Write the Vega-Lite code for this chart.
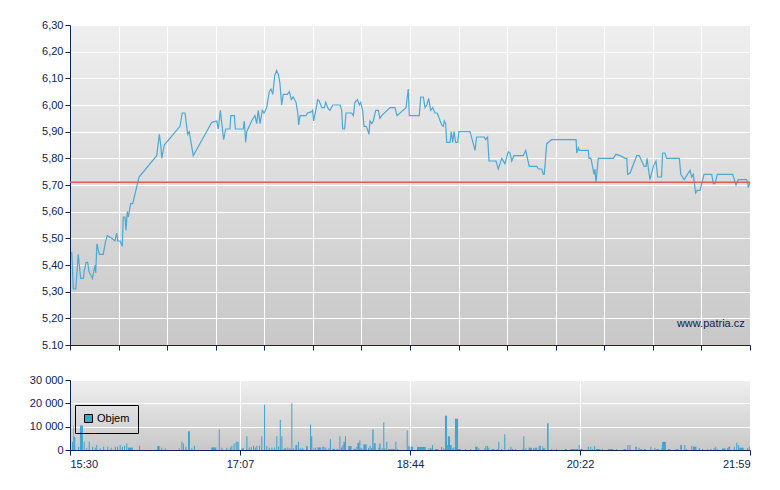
{
  "$schema": "https://vega.github.io/schema/vega-lite/v6.json",
  "background": "white",
  "padding": {"left": 29, "top": 19, "right": 10, "bottom": 5},
  "spacing": 23,
  "resolve": {"legend": {"color": "independent"}},
  "config": {
    "font": "Liberation Sans",
    "view": {
      "stroke": null,
      "fill": {
        "gradient": "linear", "x1": 0, "y1": 0, "x2": 0, "y2": 1,
        "stops": [{"offset": 0, "color": "#efefef"}, {"offset": 1, "color": "#c8c8c8"}]
      }
    },
    "axis": {
      "domainColor": "#0d2350", "tickColor": "#0d2350", "labelColor": "#0d2350",
      "labelFontSize": 11, "gridColor": "#ffffff", "gridOpacity": 1, "gridWidth": 1,
      "tickSize": 5, "title": null, "labelOverlap": false, "tickCount": 30
    }
  },
  "vconcat": [
    {
      "width": 680,
      "height": 320,
      "layer": [
        {
          "data": {"values": [
            {"t":1.0,"p":5.45},{"t":1.9,"p":5.31},{"t":3.3,"p":5.31},{"t":4.7,"p":5.44},{"t":6.1,"p":5.35},{"t":7.6,"p":5.35},
            {"t":8.2,"p":5.38},{"t":9.2,"p":5.41},{"t":10.1,"p":5.41},{"t":10.9,"p":5.375},{"t":12.8,"p":5.35},{"t":14.3,"p":5.40},
            {"t":14.7,"p":5.37},{"t":15.4,"p":5.48},{"t":16.8,"p":5.44},{"t":19.0,"p":5.44},{"t":20.4,"p":5.49},{"t":21.3,"p":5.51},
            {"t":23.9,"p":5.50},{"t":25.7,"p":5.49},{"t":26.7,"p":5.52},{"t":27.3,"p":5.49},{"t":28.6,"p":5.49},{"t":29.9,"p":5.47},
            {"t":30.5,"p":5.58},{"t":31.5,"p":5.58},{"t":32.0,"p":5.53},{"t":32.8,"p":5.60},{"t":33.4,"p":5.58},{"t":34.7,"p":5.63},
            {"t":35.9,"p":5.63},{"t":39.5,"p":5.73},{"t":49.6,"p":5.81},{"t":51.1,"p":5.89},{"t":51.9,"p":5.85},{"t":52.5,"p":5.80},
            {"t":53.9,"p":5.85},{"t":62.9,"p":5.92},{"t":64.2,"p":5.97},{"t":65.8,"p":5.97},{"t":67.3,"p":5.89},{"t":68.2,"p":5.90},
            {"t":70.5,"p":5.81},{"t":81.1,"p":5.935},{"t":83.9,"p":5.94},{"t":84.8,"p":5.91},{"t":86.0,"p":5.98},{"t":87.9,"p":5.87},
            {"t":89.1,"p":5.91},{"t":91.5,"p":5.91},{"t":92.0,"p":5.96},{"t":94.0,"p":5.96},{"t":94.6,"p":5.91},{"t":99.1,"p":5.91},
            {"t":99.7,"p":5.94},{"t":100.5,"p":5.86},{"t":101.1,"p":5.90},{"t":103.9,"p":5.94},{"t":105.8,"p":5.96},{"t":106.8,"p":5.93},
            {"t":107.7,"p":5.98},{"t":108.7,"p":5.93},{"t":110.0,"p":5.98},{"t":111.0,"p":5.97},{"t":112.5,"p":5.99},{"t":114.0,"p":6.05},
            {"t":115.0,"p":6.06},{"t":116.0,"p":6.04},{"t":117.1,"p":6.11},{"t":118.2,"p":6.13},{"t":119.4,"p":6.11},{"t":120.1,"p":6.08},
            {"t":121.1,"p":6.00},{"t":122.0,"p":6.04},{"t":124.3,"p":6.04},{"t":125.5,"p":6.05},{"t":126.6,"p":6.02},{"t":127.7,"p":6.03},
            {"t":129.3,"p":6.01},{"t":130.3,"p":5.97},{"t":130.8,"p":5.925},{"t":131.6,"p":5.96},{"t":135.0,"p":5.96},{"t":135.8,"p":5.97},
            {"t":138.3,"p":5.975},{"t":138.8,"p":5.98},{"t":139.4,"p":5.94},{"t":140.6,"p":5.98},{"t":141.7,"p":6.02},{"t":142.6,"p":6.015},
            {"t":144.0,"p":5.99},{"t":145.5,"p":5.99},{"t":146.3,"p":6.01},{"t":147.4,"p":5.99},{"t":148.7,"p":5.98},{"t":150.3,"p":6.00},
            {"t":154.5,"p":6.00},{"t":155.4,"p":5.98},{"t":156.0,"p":5.91},{"t":157.1,"p":5.91},{"t":157.9,"p":5.97},{"t":161.1,"p":5.97},
            {"t":162.1,"p":5.96},{"t":163.0,"p":6.01},{"t":164.4,"p":6.02},{"t":165.5,"p":6.00},{"t":166.3,"p":6.01},{"t":167.4,"p":5.98},
            {"t":168.2,"p":5.92},{"t":169.3,"p":5.92},{"t":170.1,"p":5.91},{"t":171.0,"p":5.89},{"t":171.6,"p":5.94},{"t":172.6,"p":5.93},
            {"t":173.5,"p":5.94},{"t":174.9,"p":5.98},{"t":176.4,"p":5.98},{"t":177.3,"p":5.95},{"t":178.3,"p":5.96},{"t":183.1,"p":5.99},
            {"t":185.9,"p":5.99},{"t":187.1,"p":5.96},{"t":192.2,"p":5.99},{"t":193.5,"p":6.06},{"t":194.1,"p":5.96},{"t":199.8,"p":5.96},
            {"t":200.6,"p":6.03},{"t":202.1,"p":6.03},{"t":203.1,"p":5.99},{"t":204.1,"p":6.00},{"t":205.2,"p":6.025},{"t":206.3,"p":5.98},
            {"t":207.5,"p":5.99},{"t":208.8,"p":5.97},{"t":210.1,"p":5.97},{"t":212.6,"p":5.925},{"t":213.5,"p":5.92},{"t":214.1,"p":5.94},
            {"t":214.9,"p":5.93},{"t":215.5,"p":5.86},{"t":217.4,"p":5.86},{"t":218.1,"p":5.90},{"t":218.9,"p":5.86},{"t":219.7,"p":5.90},
            {"t":220.6,"p":5.86},{"t":221.8,"p":5.86},{"t":222.5,"p":5.90},{"t":228.8,"p":5.90},{"t":230.7,"p":5.855},{"t":231.7,"p":5.83},
            {"t":232.6,"p":5.88},{"t":234.5,"p":5.88},{"t":237.0,"p":5.88},{"t":237.8,"p":5.87},{"t":238.9,"p":5.88},{"t":239.7,"p":5.79},
            {"t":243.7,"p":5.79},{"t":245.0,"p":5.76},{"t":247.0,"p":5.80},{"t":248.8,"p":5.78},{"t":250.7,"p":5.825},{"t":251.7,"p":5.82},
            {"t":252.7,"p":5.79},{"t":254.0,"p":5.81},{"t":259.3,"p":5.81},{"t":260.7,"p":5.83},{"t":262.7,"p":5.77},{"t":267.0,"p":5.77},
            {"t":267.9,"p":5.76},{"t":269.8,"p":5.76},{"t":270.8,"p":5.74},{"t":271.3,"p":5.74},{"t":272.7,"p":5.855},{"t":275.5,"p":5.87},
            {"t":289.5,"p":5.87},{"t":289.9,"p":5.82},{"t":290.8,"p":5.84},{"t":291.3,"p":5.83},{"t":296.5,"p":5.83},{"t":296.9,"p":5.80},
            {"t":298.0,"p":5.80},{"t":298.6,"p":5.78},{"t":299.8,"p":5.74},{"t":300.3,"p":5.76},{"t":300.9,"p":5.71},{"t":302.2,"p":5.80},
            {"t":310.8,"p":5.80},{"t":312.3,"p":5.815},{"t":314.6,"p":5.81},{"t":317.5,"p":5.80},{"t":318.5,"p":5.80},{"t":319.0,"p":5.74},
            {"t":320.4,"p":5.745},{"t":324.2,"p":5.81},{"t":325.7,"p":5.81},{"t":327.0,"p":5.79},{"t":328.4,"p":5.77},{"t":329.5,"p":5.77},
            {"t":330.1,"p":5.80},{"t":330.7,"p":5.77},{"t":331.8,"p":5.72},{"t":333.7,"p":5.77},{"t":335.2,"p":5.79},{"t":336.2,"p":5.73},
            {"t":338.4,"p":5.73},{"t":339.0,"p":5.82},{"t":340.3,"p":5.82},{"t":341.3,"p":5.80},{"t":348.6,"p":5.80},{"t":349.4,"p":5.74},
            {"t":351.3,"p":5.72},{"t":354.7,"p":5.755},{"t":355.6,"p":5.73},{"t":356.6,"p":5.74},{"t":357.1,"p":5.71},{"t":357.9,"p":5.67},
            {"t":358.8,"p":5.68},{"t":360.4,"p":5.68},{"t":362.7,"p":5.74},{"t":367.1,"p":5.74},{"t":368.0,"p":5.705},{"t":369.0,"p":5.705},
            {"t":370.3,"p":5.74},{"t":379.1,"p":5.74},{"t":381.0,"p":5.70},{"t":382.3,"p":5.72},{"t":387.1,"p":5.72},{"t":387.7,"p":5.71},
            {"t":388.0,"p":5.69},{"t":389.0,"p":5.71}
          ]},
          "mark": {"type": "line", "color": "#4aa9d6", "strokeWidth": 1.2},
          "encoding": {
            "x": {
              "field": "t", "type": "quantitative",
              "scale": {"domain": [0, 389], "nice": false, "zero": false},
              "axis": {
                "values": [0, 27.786, 55.571, 83.357, 111.143, 138.929, 166.714, 194.5, 222.286, 250.071, 277.857, 305.643, 333.429, 361.214, 389],
                "labels": false, "grid": true, "tickCount": 30
              }
            },
            "y": {
              "field": "p", "type": "quantitative",
              "scale": {"domain": [5.1, 6.3], "nice": false, "zero": false},
              "axis": {
                "values": [5.1, 5.2, 5.3, 5.4, 5.5, 5.6, 5.7, 5.8, 5.9, 6.0, 6.1, 6.2, 6.3],
                "grid": true,
                "tickCount": 30,
                "labelOverlap": false,
                "labelExpr": "abs(datum.value - 5.1) < 0.001 ? '5.10' : replace(format(datum.value, '.2f'), '.', ',')"
              }
            }
          }
        },
        {
          "data": {"values": [{"p": 5.71}]},
          "mark": {"type": "rule", "color": "#e05a5a", "strokeWidth": 1.5},
          "encoding": {"y": {"field": "p", "type": "quantitative"}}
        },
        {
          "data": {"values": [{"t": 386, "p": 5.18, "label": "www.patria.cz"}]},
          "mark": {"type": "text", "align": "right", "baseline": "middle", "fontSize": 11, "color": "#0d2350"},
          "encoding": {
            "x": {"field": "t", "type": "quantitative"},
            "y": {"field": "p", "type": "quantitative"},
            "text": {"field": "label"}
          }
        }
      ]
    },
    {
      "width": 680,
      "height": 70,
      "data": {"values": [
        {"t":1.1,"t2":1.7,"v":3500},{"t":1.7,"t2":2.1,"v":10500},{"t":2.1,"t2":3.0,"v":5600},{"t":4.6,"t2":5.2,"v":1400},
        {"t":5.7,"t2":7.4,"v":10500},{"t":7.8,"t2":8.4,"v":3500},{"t":9.3,"t2":9.9,"v":700},{"t":10.7,"t2":11.3,"v":3500},
        {"t":12.6,"t2":13.2,"v":1400},{"t":14.1,"t2":14.7,"v":1000},{"t":15.0,"t2":15.6,"v":2100},{"t":17.0,"t2":17.6,"v":700},
        {"t":18.9,"t2":19.5,"v":1400},{"t":21.3,"t2":21.9,"v":1400},{"t":23.3,"t2":23.9,"v":1000},{"t":25.6,"t2":26.2,"v":1400},
        {"t":26.9,"t2":27.5,"v":1400},{"t":28.4,"t2":29.0,"v":2100},{"t":29.7,"t2":30.3,"v":1400},{"t":30.9,"t2":31.5,"v":1800},
        {"t":32.2,"t2":32.8,"v":2800},{"t":33.2,"t2":36.0,"v":1000},{"t":39.5,"t2":40.1,"v":1800},{"t":49.9,"t2":51.3,"v":1700},
        {"t":52.2,"t2":52.8,"v":1000},{"t":54.2,"t2":54.8,"v":700},{"t":62.2,"t2":62.8,"v":700},{"t":63.7,"t2":64.3,"v":3500},
        {"t":64.6,"t2":65.2,"v":2800},{"t":66.0,"t2":66.6,"v":1400},{"t":67.5,"t2":68.6,"v":8000},{"t":69.4,"t2":70.0,"v":700},
        {"t":70.9,"t2":71.5,"v":1800},{"t":80.8,"t2":83.7,"v":1100},{"t":85.1,"t2":85.7,"v":8800},{"t":86.6,"t2":87.2,"v":1000},
        {"t":89.4,"t2":90.0,"v":1000},{"t":91.4,"t2":92.0,"v":1100},{"t":92.3,"t2":92.9,"v":1800},{"t":93.6,"t2":94.2,"v":2800},
        {"t":94.8,"t2":95.4,"v":3500},{"t":95.7,"t2":96.5,"v":3500},{"t":98.0,"t2":99.5,"v":700},{"t":100.9,"t2":101.5,"v":5900},
        {"t":102.2,"t2":102.8,"v":1100},{"t":103.4,"t2":104.0,"v":1400},{"t":104.7,"t2":105.3,"v":1800},{"t":105.7,"t2":106.3,"v":1100},
        {"t":106.6,"t2":107.2,"v":1800},{"t":108.1,"t2":108.7,"v":1800},{"t":109.4,"t2":110.0,"v":5900},{"t":111.0,"t2":111.6,"v":19300},
        {"t":112.3,"t2":112.9,"v":1700},{"t":113.7,"t2":114.3,"v":1000},{"t":115.2,"t2":115.8,"v":1100},{"t":116.7,"t2":117.3,"v":1100},
        {"t":118.0,"t2":118.6,"v":5900},{"t":119.0,"t2":119.6,"v":1400},{"t":120.0,"t2":120.6,"v":13000},{"t":120.9,"t2":121.5,"v":5900},
        {"t":122.4,"t2":123.6,"v":700},{"t":124.3,"t2":124.9,"v":1100},{"t":125.5,"t2":126.1,"v":700},{"t":126.6,"t2":127.2,"v":20000},
        {"t":127.6,"t2":128.2,"v":700},{"t":128.9,"t2":130.0,"v":2100},{"t":130.4,"t2":131.0,"v":3500},{"t":131.4,"t2":132.0,"v":700},
        {"t":132.5,"t2":133.5,"v":700},{"t":135.0,"t2":136.0,"v":1700},{"t":137.3,"t2":137.9,"v":10900},{"t":137.9,"t2":138.6,"v":5900},
        {"t":139.2,"t2":139.8,"v":700},{"t":140.2,"t2":140.8,"v":1000},{"t":141.5,"t2":143.6,"v":1100},{"t":144.3,"t2":144.9,"v":1400},
        {"t":144.9,"t2":145.5,"v":1400},{"t":146.0,"t2":146.6,"v":1000},{"t":147.8,"t2":148.4,"v":700},{"t":148.7,"t2":149.3,"v":4600},
        {"t":150.1,"t2":151.6,"v":500},{"t":152.6,"t2":153.5,"v":500},{"t":154.1,"t2":154.7,"v":5900},{"t":155.0,"t2":155.6,"v":1100},
        {"t":155.8,"t2":156.4,"v":2100},{"t":156.4,"t2":157.3,"v":3500},{"t":157.3,"t2":157.9,"v":5900},{"t":159.2,"t2":161.1,"v":1700},
        {"t":162.1,"t2":163.4,"v":500},{"t":163.8,"t2":164.4,"v":1400},{"t":164.4,"t2":165.5,"v":3100},{"t":165.5,"t2":166.1,"v":4200},
        {"t":166.1,"t2":167.2,"v":700},{"t":167.8,"t2":169.7,"v":2400},{"t":170.5,"t2":171.1,"v":1000},{"t":171.4,"t2":172.0,"v":1700},
        {"t":172.2,"t2":172.8,"v":700},{"t":172.9,"t2":173.7,"v":8800},{"t":173.9,"t2":174.9,"v":2900},{"t":176.4,"t2":176.9,"v":1000},
        {"t":176.9,"t2":177.7,"v":2800},{"t":178.3,"t2":178.9,"v":700},{"t":179.2,"t2":179.8,"v":11800},{"t":179.8,"t2":180.4,"v":700},
        {"t":180.9,"t2":181.5,"v":3500},{"t":181.9,"t2":185.9,"v":400},{"t":186.1,"t2":186.7,"v":3500},{"t":187.1,"t2":187.7,"v":400},
        {"t":192.6,"t2":193.2,"v":8400},{"t":193.5,"t2":194.1,"v":1700},{"t":194.1,"t2":194.7,"v":1400},{"t":195.1,"t2":196.2,"v":1400},
        {"t":198.5,"t2":203.5,"v":1300},{"t":205.0,"t2":205.6,"v":700},{"t":205.9,"t2":206.9,"v":700},{"t":207.1,"t2":207.7,"v":2100},
        {"t":208.8,"t2":210.7,"v":400},{"t":212.2,"t2":212.8,"v":1400},{"t":213.5,"t2":214.1,"v":700},{"t":214.5,"t2":215.7,"v":14700},
        {"t":215.7,"t2":216.2,"v":2100},{"t":216.2,"t2":217.4,"v":5900},{"t":217.4,"t2":218.4,"v":2100},{"t":218.7,"t2":219.3,"v":700},
        {"t":219.3,"t2":219.9,"v":1100},{"t":220.2,"t2":222.0,"v":13400},{"t":222.0,"t2":223.5,"v":400},{"t":226.0,"t2":226.6,"v":400},
        {"t":229.0,"t2":229.6,"v":400},{"t":231.7,"t2":233.2,"v":1400},{"t":233.6,"t2":234.2,"v":700},{"t":237.0,"t2":237.6,"v":700},
        {"t":237.6,"t2":238.2,"v":1700},{"t":238.5,"t2":239.1,"v":1700},{"t":239.3,"t2":239.9,"v":1000},{"t":241.2,"t2":242.7,"v":400},
        {"t":244.1,"t2":244.7,"v":400},{"t":245.0,"t2":245.6,"v":3500},{"t":246.6,"t2":247.2,"v":400},{"t":248.4,"t2":249.0,"v":6700},
        {"t":250.7,"t2":251.3,"v":400},{"t":251.9,"t2":252.5,"v":1400},{"t":252.7,"t2":253.6,"v":400},{"t":254.6,"t2":255.2,"v":400},
        {"t":258.7,"t2":259.3,"v":400},{"t":259.3,"t2":259.9,"v":5900},{"t":260.5,"t2":261.1,"v":700},{"t":262.4,"t2":264.3,"v":1000},
        {"t":264.9,"t2":265.5,"v":700},{"t":265.8,"t2":267.2,"v":1000},{"t":268.1,"t2":269.3,"v":1800},{"t":270.0,"t2":270.4,"v":1700},
        {"t":270.4,"t2":271.9,"v":700},{"t":272.9,"t2":273.8,"v":11500},{"t":275.2,"t2":275.8,"v":400},{"t":278.0,"t2":278.6,"v":400},
        {"t":283.0,"t2":284.3,"v":400},{"t":286.2,"t2":290.6,"v":400},{"t":291.0,"t2":291.6,"v":2100},{"t":291.9,"t2":293.5,"v":400},
        {"t":296.2,"t2":296.8,"v":1400},{"t":297.6,"t2":298.2,"v":1400},{"t":298.6,"t2":299.2,"v":400},{"t":299.8,"t2":300.4,"v":1700},
        {"t":300.9,"t2":303.4,"v":400},{"t":304.3,"t2":304.9,"v":400},{"t":307.8,"t2":310.8,"v":400},{"t":312.3,"t2":312.9,"v":400},
        {"t":316.7,"t2":318.1,"v":400},{"t":318.8,"t2":319.4,"v":2100},{"t":320.0,"t2":320.6,"v":2100},{"t":323.4,"t2":324.3,"v":1400},
        {"t":325.3,"t2":325.9,"v":1000},{"t":326.3,"t2":327.2,"v":400},{"t":328.2,"t2":329.5,"v":400},{"t":332.0,"t2":332.6,"v":1400},
        {"t":334.3,"t2":334.9,"v":1000},{"t":335.4,"t2":337.1,"v":400},{"t":338.3,"t2":338.7,"v":700},{"t":338.7,"t2":340.9,"v":3500},
        {"t":342.1,"t2":343.4,"v":400},{"t":346.3,"t2":346.9,"v":400},{"t":347.2,"t2":348.2,"v":400},{"t":349.1,"t2":350.1,"v":2100},
        {"t":351.4,"t2":352.0,"v":2100},{"t":352.4,"t2":353.0,"v":400},{"t":355.4,"t2":356.0,"v":1700},{"t":356.4,"t2":358.3,"v":1400},
        {"t":359.7,"t2":360.3,"v":700},{"t":361.5,"t2":362.1,"v":400},{"t":364.4,"t2":365.0,"v":400},{"t":366.3,"t2":366.9,"v":400},
        {"t":368.2,"t2":368.8,"v":700},{"t":369.1,"t2":369.7,"v":1400},{"t":370.1,"t2":370.7,"v":400},{"t":373.0,"t2":374.9,"v":700},
        {"t":375.8,"t2":376.4,"v":700},{"t":376.6,"t2":377.6,"v":1400},{"t":379.8,"t2":380.4,"v":1400},{"t":381.1,"t2":381.7,"v":3100},
        {"t":382.1,"t2":382.7,"v":2100},{"t":382.9,"t2":385.4,"v":1000},{"t":387.3,"t2":387.9,"v":700},{"t":388.3,"t2":388.9,"v":1400}
      ]},
      "mark": {"type": "rect"},
      "encoding": {
        "x": {
          "field": "t", "type": "quantitative",
          "scale": {"domain": [0, 389], "nice": false, "zero": false},
          "axis": {
            "values": [0, 97.25, 194.5, 291.75, 389],
            "grid": true,
            "tickCount": 30,
            "labelPadding": 3,
            "labelExpr": "floor((930 + datum.value + 0.3) / 60) + ':' + (floor(930 + datum.value + 0.3) % 60 < 10 ? '0' : '') + floor(930 + datum.value + 0.3) % 60"
          }
        },
        "x2": {"field": "t2"},
        "y": {
          "field": "v", "type": "quantitative",
          "scale": {"domain": [0, 30000], "nice": false},
          "axis": {
            "values": [0, 10000, 20000, 30000],
            "grid": true,
            "tickCount": 30,
            "labelExpr": "replace(format(datum.value, ','), ',', ' ')"
          }
        },
        "y2": {"datum": 0},
        "color": {
          "datum": "Objem", "type": "nominal",
          "scale": {"range": ["#42a5d0"]},
          "legend": {
            "orient": "none", "legendX": 5, "legendY": 25, "title": null,
            "strokeColor": "#000000", "padding": 8, "labelOffset": 3, "symbolType": "square", "symbolSize": 64,
            "symbolStrokeColor": "#000000", "symbolStrokeWidth": 1, "symbolOpacity": 1,
            "labelFontSize": 11, "labelColor": "#000000"
          }
        }
      }
    }
  ]
}
